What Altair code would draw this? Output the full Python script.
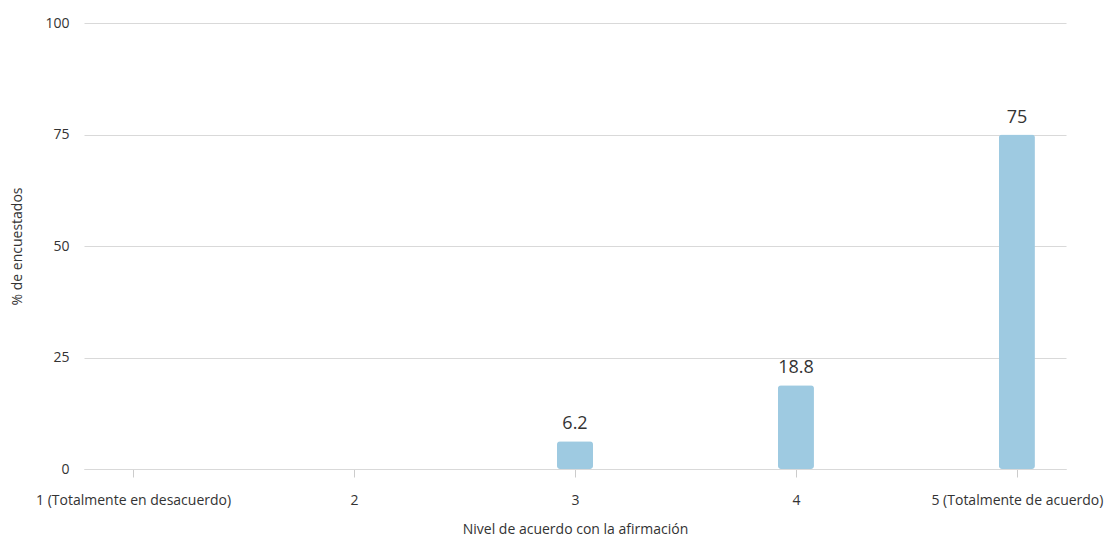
import altair as alt
import pandas as pd

categories = ["1 (Totalmente en desacuerdo)", "2", "3", "4", "5 (Totalmente de acuerdo)"]
values = [0, 0, 6.2, 18.8, 75]
labels = ["", "", "6.2", "18.8", "75"]

df = pd.DataFrame({"cat": categories, "val": values, "lab": labels})
FONT = "Open Sans"

x = alt.X("cat:N", sort=categories,
          scale=alt.Scale(type="point", domain=categories, padding=0.222),
          axis=alt.Axis(title="Nivel de acuerdo con la afirmación", labelAngle=0,
                        labelFontSize=14, titleFontSize=14, titleFontWeight="normal",
                        labelColor="#333", titleColor="#333", labelPadding=16, labelLimit=400,
                        titlePadding=15, tickColor="#ccc", tickSize=8,
                        domainColor="#d9d9d9", grid=False, labelFont=FONT, titleFont=FONT))
y = alt.Y("val:Q", scale=alt.Scale(domain=[0, 100]),
          axis=alt.Axis(title="% de encuestados", values=[0, 25, 50, 75, 100],
                        labelFontSize=14, titleFontSize=14, titleFontWeight="normal",
                        labelColor="#333", titleColor="#333", ticks=False, domain=False,
                        labelPadding=15, titlePadding=20, gridColor="#d9d9d9",
                        labelFont=FONT, titleFont=FONT))

base = alt.Chart(df).transform_filter("datum.val > 0")
bars = base.mark_bar(size=36, color="#9ecae1", cornerRadius=3).encode(x=x, y=y)
text = base.mark_text(dy=-8, baseline="bottom", fontSize=18, color="#333", font=FONT).encode(
    x=alt.X("cat:N", sort=categories), y="val:Q", text="lab:N")

chart = (alt.layer(bars, text)
         .properties(width=982, height=446,
                     autosize=alt.AutoSizeParams(type="none"),
                     padding={"left": 76, "top": 15, "right": 38, "bottom": 71})
         .configure_view(stroke=None))

chart.save("out.html", embed_options={"renderer": "svg", "actions": False})
